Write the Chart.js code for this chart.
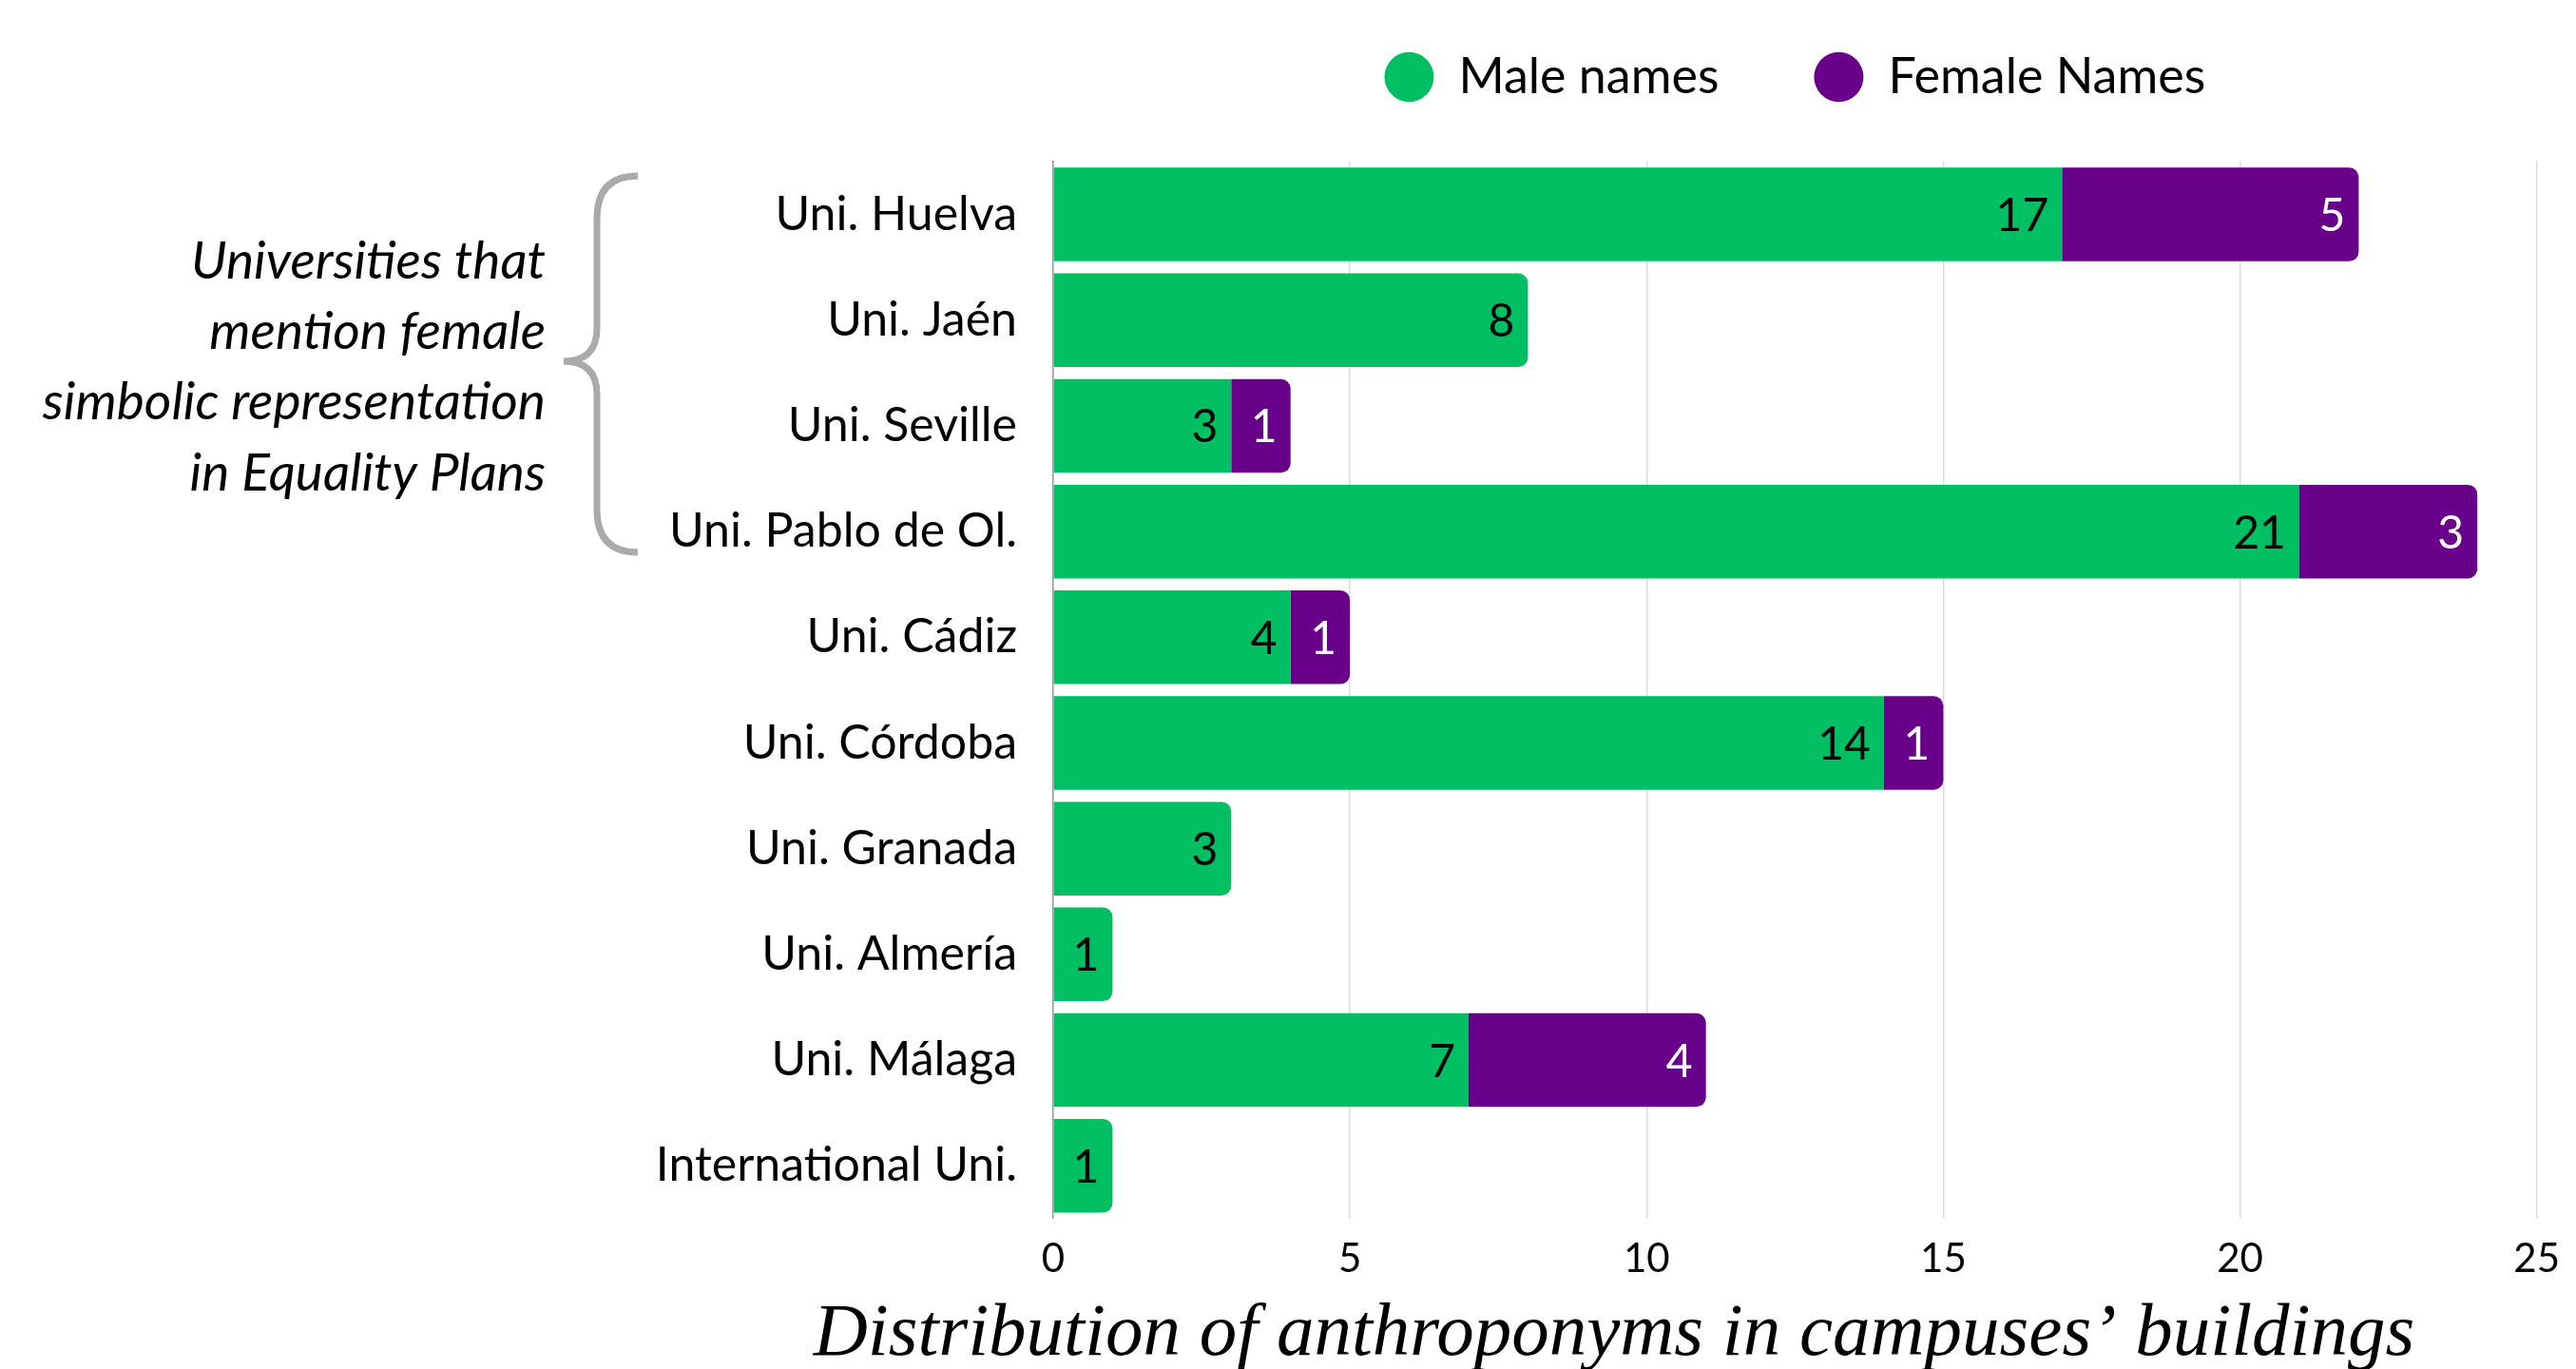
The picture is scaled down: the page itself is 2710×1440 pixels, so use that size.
<!DOCTYPE html>
<html><head><meta charset="utf-8">
<script src="https://cdn.jsdelivr.net/npm/chart.js@4.4.1/dist/chart.umd.min.js"></script>
<style>html,body{margin:0;padding:0;background:#fff;} #wrap{width:2710px;height:1440px;position:relative;}</style>
</head><body><div id="wrap"><canvas id="c" width="2710" height="1440"></canvas></div>
<script>
const categories = ['Uni. Huelva','Uni. Jaén','Uni. Seville','Uni. Pablo de Ol.','Uni. Cádiz','Uni. Córdoba','Uni. Granada','Uni. Almería','Uni. Málaga','International Uni.'];
const maleNames = [17, 8, 3, 21, 4, 14, 3, 1, 7, 1];
const femaleNames = [5, 0, 1, 3, 1, 1, 0, 0, 4, 0];
const seriesLabels = ['Male names', 'Female Names'];
const xTickValues = [0, 5, 10, 15, 20, 25];
const annotationLines = ['Universities that', 'mention female', 'simbolic representation', 'in Equality Plans'];
const chartTitle = 'Distribution of anthroponyms in campuses’ buildings';

const GREEN = '#00BF63';
const PURPLE = '#690089';

const legendGap = {
  id: 'legendGap',
  beforeLayout(chart) {
    const lg = chart.legend;
    if (lg && !lg._gapPatched) {
      const orig = lg.fit;
      lg.fit = function () { orig.apply(this, arguments); this.height += 53; };
      lg._gapPatched = true;
    }
  },
  afterLayout(chart) {
    // centre the bottom title like the reference (offset to the right)
    if (chart.titleBlock) { chart.titleBlock.left = 721; }
  }
};

const valueLabels = {
  id: 'valueLabels',
  afterDatasetsDraw(chart) {
    const ctx = chart.ctx;
    ctx.save();
    ctx.font = '48px Lato';
    ctx.textAlign = 'right';
    ctx.textBaseline = 'middle';
    chart.data.datasets.forEach((ds, di) => {
      const meta = chart.getDatasetMeta(di);
      meta.data.forEach((bar, i) => {
        const v = ds.data[i];
        if (!v) return;
        ctx.fillStyle = di === 0 ? '#000' : '#fff';
        ctx.fillText(String(v), bar.x - 14, bar.y + 2);
      });
    });
    ctx.restore();
  }
};

const sideNote = {
  id: 'sideNote',
  afterDraw(chart) {
    const ctx = chart.ctx;
    ctx.save();
    ctx.font = 'italic 55px Lato';
    ctx.fillStyle = '#000';
    ctx.textAlign = 'right';
    ctx.textBaseline = 'middle';
    const ys = [275, 349, 423, 498];
    annotationLines.forEach((t, k) => ctx.fillText(t, 574, ys[k]));
    // brace
    const xr = 671, xm = 628, xt = 593, yt = 185, ym = 380, yb = 581;
    ctx.strokeStyle = '#aaaaaa';
    ctx.lineWidth = 7;
    ctx.lineCap = 'butt';
    ctx.beginPath();
    ctx.moveTo(xr, yt);
    ctx.quadraticCurveTo(xm, yt, xm, yt + 45);
    ctx.lineTo(xm, ym - 35);
    ctx.quadraticCurveTo(xm, ym, xt, ym);
    ctx.quadraticCurveTo(xm, ym, xm, ym + 35);
    ctx.lineTo(xm, yb - 45);
    ctx.quadraticCurveTo(xm, yb, xr, yb);
    ctx.stroke();
    ctx.restore();
  }
};

new Chart(document.getElementById('c'), {
  type: 'bar',
  data: {
    labels: categories,
    datasets: [
      { label: seriesLabels[0], data: maleNames, backgroundColor: GREEN, borderWidth: 0, borderRadius: 10, borderSkipped: 'start', barPercentage: 0.886, categoryPercentage: 1 },
      { label: seriesLabels[1], data: femaleNames, backgroundColor: PURPLE, borderWidth: 0, borderRadius: 10, borderSkipped: 'start', barPercentage: 0.886, categoryPercentage: 1 }
    ]
  },
  options: {
    indexAxis: 'y',
    responsive: false,
    animation: false,
    devicePixelRatio: 1,
    layout: { padding: { top: -45, left: 0, right: 35, bottom: 0 } },
    plugins: {
      legend: {
        position: 'top',
        fullSize: false,
        align: 'center',
        labels: {
          usePointStyle: true,
          pointStyle: 'circle',
          boxHeight: 37,
          pointStyleWidth: 52,
          padding: 100,
          color: '#000',
          font: { family: 'Lato', size: 52 }
        }
      },
      title: {
        display: true,
        text: chartTitle,
        position: 'bottom',
        fullSize: true,
        color: '#000',
        font: { family: 'Liberation Serif', style: 'italic', weight: 'normal', size: 79, lineHeight: 1.2 },
        padding: { top: -9, bottom: -12 }
      },
      tooltip: { enabled: false }
    },
    scales: {
      x: {
        stacked: true,
        min: 0,
        max: 25,
        afterBuildTicks: s => { s.ticks = xTickValues.map(v => ({ value: v })); },
        grid: { color: '#dcdcdc', lineWidth: 1.5, drawTicks: false },
        border: { display: false },
        ticks: { color: '#000', padding: 17, font: { family: 'Lato', size: 42 } }
      },
      y: {
        stacked: true,
        grid: { display: false, drawTicks: false },
        border: { display: true, color: '#999', width: 1.5 },
        ticks: { color: '#000', padding: 38, font: { family: 'Lato', size: 50 } },
        afterFit: s => { s.width = 1108; }
      }
    }
  },
  plugins: [legendGap, valueLabels, sideNote]
});
</script>
</body></html>
